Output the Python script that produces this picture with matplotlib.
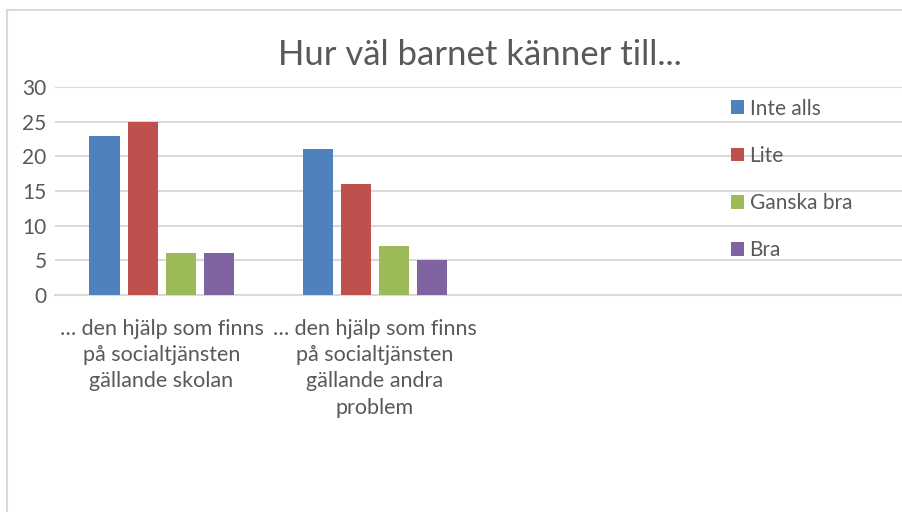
#! /usr/bin/env python3
"""Grouped bar chart: Hur väl barnet känner till..."""

import numpy as np
import matplotlib
matplotlib.use("Agg")
import matplotlib.pyplot as plt
from matplotlib.lines import Line2D

# Data
categories = [
    "… den hjälp som finns\npå socialtjänsten\ngällande skolan",
    "… den hjälp som finns\npå socialtjänsten\ngällande andra\nproblem",
    "",
    "",
]
series_names = ["Inte alls", "Lite", "Ganska bra", "Bra"]
inte_alls = [23, 21]
lite = [25, 16]
ganska_bra = [6, 7]
bra = [6, 5]
y_ticks = [0, 5, 10, 15, 20, 25, 30]

colors = ["#4F81BD", "#C0504D", "#9BBB59", "#8064A2"]
text_color = "#595959"
grid_color = "#D9D9D9"

plt.rcParams["font.family"] = ["Lato", "DejaVu Sans"]

W, H = 902, 512
fig = plt.figure(figsize=(W / 100, H / 100), dpi=100)

# outer chart frame (cut off at right and bottom)
fig.add_artist(Line2D([7 / W, 7 / W], [0, 1 - 10 / H], transform=fig.transFigure,
                      color=grid_color, lw=1.5))
fig.add_artist(Line2D([7 / W, 1], [1 - 10 / H, 1 - 10 / H], transform=fig.transFigure,
                      color=grid_color, lw=1.5))

ax = fig.add_axes([55 / W, (H - 295) / H, (907 - 55) / W, (295 - 87) / H])

values = [inte_alls, lite, ganska_bra, bra]
x = np.arange(len(inte_alls))
bar_w = 30 / 213
step = 38 / 213
for i, (name, vals) in enumerate(zip(series_names, values)):
    offset = (i - 1.5) * step
    ax.bar(x + offset, vals, width=bar_w, color=colors[i], label=name, zorder=3)

ax.set_xlim(-0.5, len(categories) - 0.5)
ax.set_ylim(0, 30)
ax.set_yticks(y_ticks)
ax.set_xticks(np.arange(len(categories)))
ax.set_xticklabels(categories, fontsize=15.5, color=text_color, linespacing=1.4)
ax.tick_params(axis="y", labelsize=15, labelcolor=text_color, length=0, pad=6)
ax.tick_params(axis="x", length=0, pad=17)
ax.grid(axis="y", color=grid_color, lw=1.5, zorder=0)
for side in ["left", "right", "top"]:
    ax.spines[side].set_visible(False)
ax.spines["bottom"].set_color(grid_color)
ax.spines["bottom"].set_linewidth(1.5)

fig.text(480 / W, 1 - 55 / H, "Hur väl barnet känner till...", ha="center", va="center",
         fontsize=25, color=text_color)

fig.legend(loc="upper left", bbox_to_anchor=(712 / W, 1 - 80 / H), frameon=False,
           fontsize=15, labelcolor=text_color, handlelength=0.65, handleheight=0.65,
           handletextpad=0.25, labelspacing=1.3)

fig.savefig("out.png", dpi=100)
